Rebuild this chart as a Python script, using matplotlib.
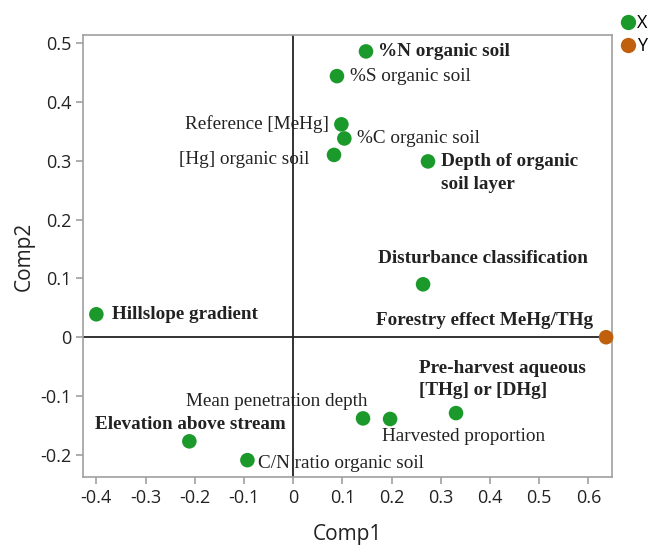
import matplotlib
matplotlib.use("Agg")
import matplotlib.pyplot as plt
from matplotlib.lines import Line2D

# loadings
labels = ['%N organic soil', '%S organic soil', 'Reference [MeHg]', '%C organic soil',
          '[Hg] organic soil', 'Depth of organic\nsoil layer', 'Disturbance classification',
          'Hillslope gradient', 'Forestry effect MeHg/THg', 'Pre-harvest aqueous\n[THg] or [DHg]',
          'Mean penetration depth', 'Harvested proportion', 'Elevation above stream',
          'C/N ratio organic soil']
comp1 = [0.148, 0.089, 0.098, 0.104, 0.083, 0.274, 0.264, -0.400, 0.636, 0.331,
         0.142, 0.197, -0.211, -0.093]
comp2 = [0.486, 0.444, 0.362, 0.338, 0.310, 0.299, 0.090, 0.039, 0.0, -0.129,
         -0.138, -0.139, -0.177, -0.209]
group = ['X', 'X', 'X', 'X', 'X', 'X', 'X', 'X', 'Y', 'X', 'X', 'X', 'X', 'X']
bold = [True, False, False, False, False, True, True, True, True, True,
        False, False, True, False]

colors = {'X': '#1b9a2b', 'Y': '#c0600c'}

# label placement: (dx, dy in pixels, ha, va)
place = [(12, 0, 'left', 'center'), (13, 0, 'left', 'center'),
         (-13, 0, 'right', 'center'), (13, 0, 'left', 'center'),
         (-25, -5, 'right', 'center'), (13, 8, 'left', 'top'),
         (60, 26, 'center', 'center'), (16, 0, 'left', 'center'),
         (-13, 17, 'right', 'center'), (-37, 53, 'left', 'top'),
         (4, 17, 'right', 'center'), (-8, -18, 'left', 'center'),
         (1, 17, 'center', 'center'), (11, -3, 'left', 'center')]

fig = plt.figure(figsize=(6.49, 5.46), dpi=100)
ax = fig.add_axes([0.128, 0.126, 0.815, 0.81])

ax.axhline(0, color='#222222', lw=1.3, zorder=1)
ax.axvline(0, color='#222222', lw=1.3, zorder=1)

for i in range(len(labels)):
    ax.scatter(comp1[i], comp2[i], s=110, color=colors[group[i]], zorder=3,
               edgecolors='none', clip_on=False)
    dx, dy, ha, va = place[i]
    ax.annotate(labels[i], (comp1[i], comp2[i]), xytext=(dx, dy),
                textcoords='offset pixels', ha=ha, va=va,
                family='Liberation Serif', fontsize=13.8,
                fontweight='bold' if bold[i] else 'normal',
                color='#222222', linespacing=1.4, zorder=4)

ax.set_xlim(-0.427, 0.648)
ax.set_ylim(-0.238, 0.514)
ax.set_xticks([-0.4, -0.3, -0.2, -0.1, 0, 0.1, 0.2, 0.3, 0.4, 0.5, 0.6])
ax.set_xticklabels(['-0.4', '-0.3', '-0.2', '-0.1', '0', '0.1', '0.2', '0.3', '0.4', '0.5', '0.6'])
ax.set_yticks([-0.2, -0.1, 0, 0.1, 0.2, 0.3, 0.4, 0.5])
ax.set_yticklabels(['-0.2', '-0.1', '0', '0.1', '0.2', '0.3', '0.4', '0.5'])

for sp in ax.spines.values():
    sp.set_color('#a0a0a0')
    sp.set_linewidth(1.2)
ax.tick_params(colors='#a0a0a0', labelcolor='#222222', length=5, width=1.2,
               labelsize=13)
for t in ax.get_xticklabels() + ax.get_yticklabels():
    t.set_family('Open Sans')

ax.set_xlabel('Comp1', family='Open Sans', fontsize=15, color='#222222', labelpad=12)
ax.set_ylabel('Comp2', family='Open Sans', fontsize=15, color='#222222', labelpad=4)

handles = [Line2D([], [], marker='o', ls='none', color=colors[k], markersize=11,
                  markeredgewidth=0) for k in ['X', 'Y']]
fig.legend(handles, ['X', 'Y'], loc='upper left', bbox_to_anchor=(0.94, 0.99),
           frameon=False, handletextpad=0.0, labelspacing=0.25, borderpad=0,
           handlelength=1.0, prop={'family': 'Open Sans', 'size': 13})

fig.savefig('out.png', dpi=100)
